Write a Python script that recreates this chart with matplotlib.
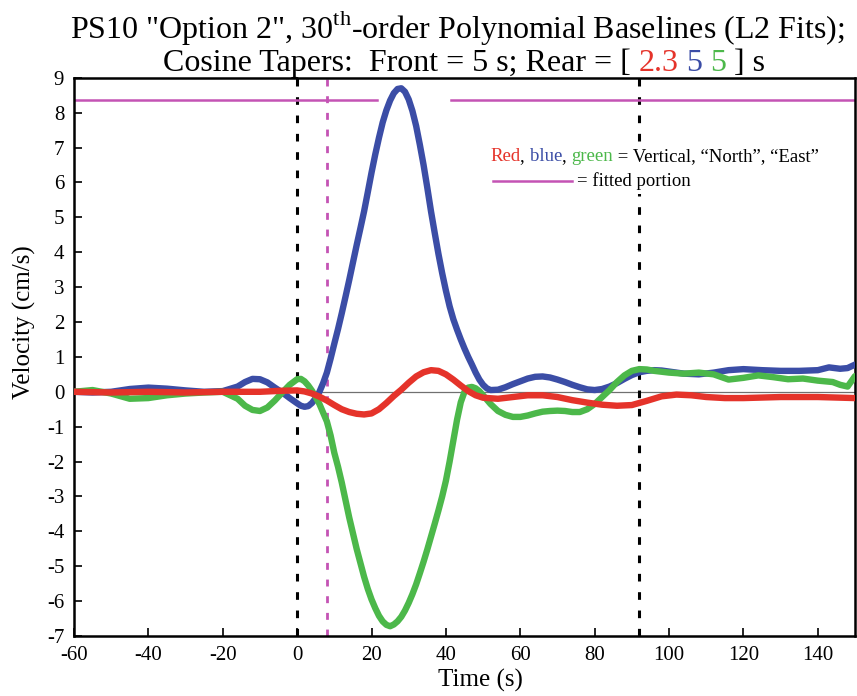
import matplotlib
matplotlib.use('Agg')
import matplotlib.pyplot as plt
import numpy as np

plt.rcParams['font.family'] = ['Liberation Serif', 'DejaVu Serif']
plt.rcParams['mathtext.fontset'] = 'custom'
plt.rcParams['mathtext.rm'] = 'Liberation Serif'
plt.rcParams['axes.unicode_minus'] = False

RED = '#e5332a'
BLUE = '#3b4da6'
GREEN = '#4cb84a'
MAGENTA = '#c453b4'

# vertical component
t_vert = [-60, -50, -40, -30, -20, -10, -4, 0, 2, 4, 6, 8, 10, 12, 14, 16, 18, 20, 22,
          24, 26, 28, 30, 32, 34, 36, 38, 40, 42, 44, 46, 48, 50, 54, 58, 62, 66, 70, 74,
          78, 82, 86, 90, 94, 98, 102, 106, 110, 115, 120, 130, 140, 150]
v_vert = [0.0, -0.02, 0.0, -0.02, 0.0, 0.0, 0.03, 0.04, 0.01, -0.05, -0.14, -0.25, -0.38,
          -0.5, -0.58, -0.63, -0.65, -0.62, -0.5, -0.32, -0.12, 0.06, 0.26, 0.44, 0.56,
          0.62, 0.6, 0.5, 0.35, 0.18, 0.02, -0.1, -0.17, -0.2, -0.15, -0.1, -0.1, -0.15,
          -0.24, -0.31, -0.37, -0.4, -0.38, -0.26, -0.13, -0.08, -0.1, -0.15, -0.18, -0.18,
          -0.15, -0.15, -0.18]

# "North" component
t_north = [-60, -55, -50, -45, -40, -35, -30, -25, -20, -16, -14, -12, -10, -8, -6, -4,
           -2, 0, 1, 2, 3, 4, 5, 6, 7, 8, 9, 10, 11, 12, 13, 14, 15, 16, 17, 18, 19, 20,
           21, 22, 23, 24, 25, 26, 27, 28, 29, 30, 31, 32, 33, 34, 35, 36, 37, 38, 39, 40,
           41, 42, 43, 44, 45, 46, 47, 48, 49, 50, 51, 52, 54, 56, 58, 60, 62, 64, 66, 68,
           70, 72, 74, 76, 78, 80, 82, 84, 86, 88, 90, 92, 94, 96, 98, 100, 104, 108, 112,
           116, 120, 125, 130, 135, 140, 143, 146, 148, 150]
v_north = [0.0, -0.02, 0.0, 0.08, 0.12, 0.09, 0.04, 0.0, 0.02, 0.15, 0.28, 0.37, 0.36,
           0.27, 0.12, -0.02, -0.18, -0.33, -0.4, -0.43, -0.41, -0.32, -0.18, 0.0, 0.25,
           0.55, 0.95, 1.38, 1.8, 2.25, 2.72, 3.2, 3.7, 4.2, 4.68, 5.17, 5.72, 6.28, 6.8,
           7.28, 7.72, 8.07, 8.35, 8.56, 8.68, 8.7, 8.6, 8.38, 8.05, 7.62, 7.08, 6.5, 5.85,
           5.17, 4.55, 3.95, 3.4, 2.9, 2.45, 2.08, 1.78, 1.5, 1.24, 1.0, 0.78, 0.55, 0.35,
           0.2, 0.1, 0.05, 0.06, 0.13, 0.22, 0.3, 0.38, 0.43, 0.44, 0.41, 0.35, 0.28, 0.2,
           0.13, 0.07, 0.05, 0.08, 0.15, 0.25, 0.37, 0.48, 0.56, 0.6, 0.62, 0.61, 0.58,
           0.52, 0.5, 0.55, 0.62, 0.65, 0.62, 0.6, 0.6, 0.62, 0.7, 0.66, 0.68, 0.78]

# "East" component
t_east = [-60, -55, -50, -45, -40, -35, -30, -25, -20, -16, -14, -12, -10, -8, -6, -4,
          -2, 0, 1, 2, 3, 4, 5, 6, 7, 8, 9, 10, 11, 12, 13, 14, 15, 16, 17, 18, 19, 20,
          21, 22, 23, 24, 25, 26, 27, 28, 29, 30, 31, 32, 33, 34, 35, 36, 37, 38, 39, 40,
          41, 42, 43, 44, 45, 46, 47, 48, 49, 50, 52, 54, 56, 58, 60, 62, 64, 66, 68, 70,
          72, 74, 76, 78, 80, 82, 84, 86, 88, 90, 92, 94, 96, 100, 104, 108, 112, 116,
          120, 124, 128, 132, 136, 140, 144, 146, 148, 149, 150]
v_east = [0.0, 0.05, -0.05, -0.2, -0.18, -0.1, -0.05, -0.02, 0.0, -0.2, -0.4, -0.52,
          -0.55, -0.45, -0.25, -0.02, 0.2, 0.36, 0.37, 0.3, 0.18, 0.03, -0.15, -0.35,
          -0.6, -0.85, -1.25, -1.75, -2.15, -2.6, -3.1, -3.6, -4.05, -4.5, -4.9, -5.3,
          -5.65, -5.95, -6.2, -6.42, -6.58, -6.68, -6.72, -6.67, -6.58, -6.45, -6.27,
          -6.05, -5.8, -5.52, -5.2, -4.87, -4.52, -4.15, -3.78, -3.4, -3.0, -2.55, -2.0,
          -1.4, -0.8, -0.3, 0.0, 0.12, 0.14, 0.1, 0.02, -0.1, -0.35, -0.55, -0.66, -0.72,
          -0.72, -0.68, -0.62, -0.57, -0.55, -0.54, -0.55, -0.58, -0.58, -0.5, -0.35,
          -0.15, 0.05, 0.28, 0.47, 0.6, 0.65, 0.64, 0.6, 0.55, 0.52, 0.55, 0.5, 0.35, 0.4,
          0.47, 0.42, 0.36, 0.38, 0.32, 0.28, 0.2, 0.15, 0.3, 0.45]

fit_level = 8.35
fit_gap = [21.5, 41.5]
taper_lines = [0, 92]
pick_line = 8

fig = plt.figure(figsize=(8.57, 6.96), dpi=100)
ax = fig.add_axes([0.0863, 0.0862, 0.9114, 0.802])

ax.axhline(0, color='#707070', lw=0.9, zorder=1)
for tl in taper_lines:
    ax.axvline(tl, color='black', lw=2.2, ls=(0, (2.5, 3.5)), zorder=2)
ax.axvline(pick_line, color=MAGENTA, lw=2.0, ls=(0, (2.5, 3.5)), zorder=2)
ax.plot([-60, fit_gap[0]], [fit_level, fit_level], color=MAGENTA, lw=1.8, zorder=2)
ax.plot([fit_gap[1], 150], [fit_level, fit_level], color=MAGENTA, lw=1.8, zorder=2)

for t, v, c, z in [(t_north, v_north, BLUE, 3), (t_east, v_east, GREEN, 4),
                   (t_vert, v_vert, RED, 5)]:
    ax.plot(t, v, color=c, lw=4.6, solid_capstyle='round', solid_joinstyle='round',
            zorder=z)

ax.set_xlim(-60, 150)
ax.set_ylim(-7, 9)
ax.set_xticks(np.arange(-60, 141, 20))
ax.set_yticks(np.arange(-7, 10, 1))
ax.tick_params(direction='in', length=6, width=1.2, labelsize=15, pad=7)
for sp in ax.spines.values():
    sp.set_linewidth(1.8)

ax.set_xlabel('Time (s)', fontsize=18)
ax.set_ylabel('Velocity (cm/s)', fontsize=18)
ax.xaxis.set_label_coords(0.52, -0.079)
ax.xaxis.label.set_va('center')
ax.yaxis.set_label_coords(-0.063, 0.563)
ax.yaxis.label.set_va('center')

renderer = fig.canvas.get_renderer()
W = fig.get_figwidth() * fig.dpi
H = fig.get_figheight() * fig.dpi


def text_width(s, size):
    t = fig.text(0, 0, s, fontsize=size)
    w = t.get_window_extent(renderer).width
    t.remove()
    return w


def colored_line(pieces, x, y, size, ha='center'):
    bar = text_width('|', size)
    full = ''.join(p for p, c in pieces)
    total = text_width(full + '|', size) - bar
    x0 = x - total / 2 if ha == 'center' else x
    prefix = ''
    for piece, color in pieces:
        off = text_width(prefix + '|', size) - bar if prefix else 0
        fig.text((x0 + off) / W, 1 - y / H, piece, color=color, fontsize=size,
                 ha='left', va='baseline', zorder=6)
        prefix += piece


fig.text(457 / W, 1 - 38 / H,
         r'PS10 "Option 2", 30$^{\rm th}$-order Polynomial Baselines (L2 Fits);',
         fontsize=23, ha='center', va='baseline')
colored_line([('Cosine Tapers:  Front = 5 s; Rear = [ ', 'black'), ('2.3', RED),
              (' ', 'black'), ('5', BLUE), (' ', 'black'), ('5', GREEN),
              (' ] s', 'black')], 464, 71, 23)

# key box: white patch behind the colour key
fig.patches.append(plt.Rectangle((486 / W, 1 - 194 / H), 340 / W, 50 / H,
                                 transform=fig.transFigure, facecolor='white',
                                 edgecolor='none', zorder=5))
colored_line([('Red', RED), (', ', 'black'), ('blue', BLUE), (', ', 'black'),
              ('green', GREEN), (' = Vertical, \u201cNorth\u201d, \u201cEast\u201d', 'black')],
             490, 161, 13.5, ha='left')
fig.lines.append(plt.Line2D([493 / W, 572 / W], [1 - 181 / H, 1 - 181 / H],
                            transform=fig.transFigure, color=MAGENTA, lw=1.8, zorder=6))
fig.text(577 / W, 1 - 186 / H, '= fitted portion', fontsize=13.5, ha='left',
         va='baseline', zorder=6)

fig.savefig('out.png', dpi=100, facecolor='white')
